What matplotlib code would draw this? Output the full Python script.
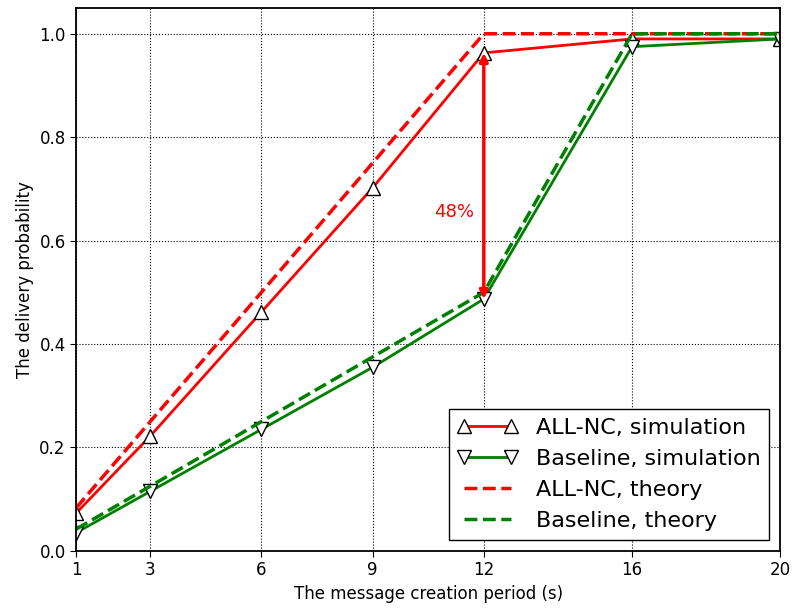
import matplotlib
matplotlib.use('Agg')
import matplotlib.pyplot as plt

# Data
periods = [1, 3, 6, 9, 12, 16, 20]
allnc_sim = [0.073, 0.222, 0.462, 0.702, 0.963, 0.990, 0.990]
base_sim = [0.035, 0.115, 0.235, 0.355, 0.487, 0.975, 0.990]
allnc_theory = [0.083, 0.25, 0.5, 0.75, 1.0, 1.0, 1.0]
base_theory = [0.042, 0.125, 0.25, 0.375, 0.5, 1.0, 1.0]

fig, ax = plt.subplots(figsize=(7.93, 6.08), dpi=100)

ax.plot(periods, allnc_sim, color='red', lw=2, marker='^', ms=10,
        mfc='white', mec='black', mew=1, label='ALL-NC, simulation')
ax.plot(periods, base_sim, color='green', lw=2, marker='v', ms=10,
        mfc='white', mec='black', mew=1, label='Baseline, simulation')
ax.plot(periods, allnc_theory, color='red', lw=2.5, ls='--', label='ALL-NC, theory')
ax.plot(periods, base_theory, color='green', lw=2.5, ls='--', label='Baseline, theory')

# improvement arrow
ax.annotate('', xy=(12, allnc_sim[4]), xytext=(12, base_sim[4]),
            arrowprops=dict(arrowstyle='<|-|>', color='red', lw=2.5,
                            mutation_scale=12, shrinkA=0, shrinkB=0))
ax.text(11.2, 0.655, '48%', color='red', fontsize=13, ha='center', va='center')

ax.set_xlim(1, 20)
ax.set_ylim(0, 1.05)
ax.set_xticks(periods)
ax.set_yticks([0.0, 0.2, 0.4, 0.6, 0.8, 1.0])
ax.tick_params(labelsize=12, direction='out', length=4)
ax.grid(True, color='black', ls=':', lw=0.8)
for s in ax.spines.values():
    s.set_linewidth(1.3)
ax.set_xlabel('The message creation period (s)', fontsize=12)
ax.set_ylabel('The delivery probability', fontsize=12)

leg = ax.legend(loc='lower right', fontsize=16, numpoints=2, fancybox=False,
                framealpha=1, edgecolor='black', handlelength=2.7,
                borderaxespad=0.5, labelspacing=0.5)
leg.get_frame().set_linewidth(1)

plt.subplots_adjust(left=0.096, right=0.984, top=0.987, bottom=0.094)
plt.savefig('out.png', dpi=100)
